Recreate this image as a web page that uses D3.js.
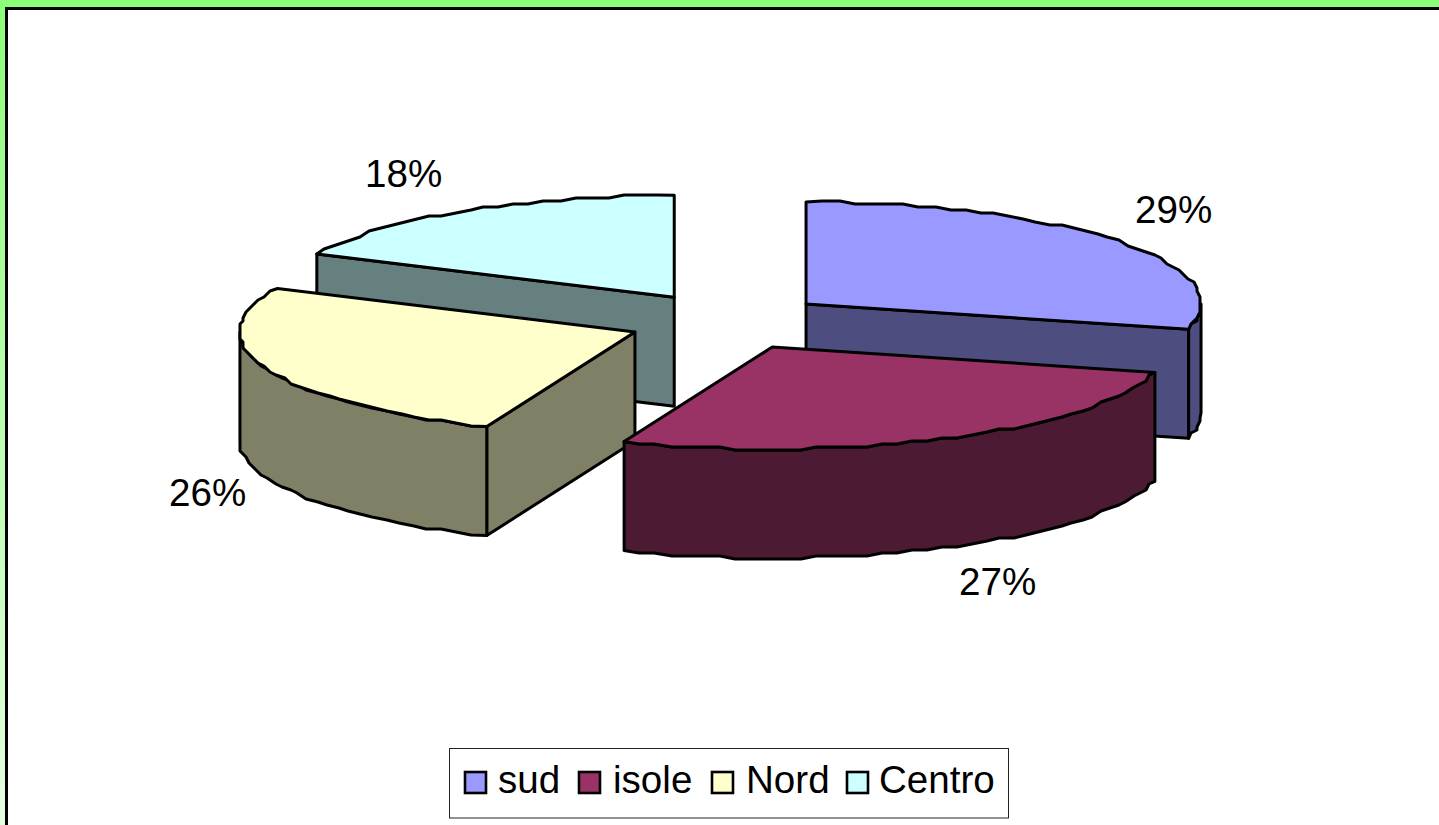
<!DOCTYPE html>
<html>
<head>
<meta charset="utf-8">
<title>Pie</title>
<script src="https://cdn.jsdelivr.net/npm/d3@7"></script>
<style>
html, body { margin: 0; padding: 0; background: #fff; overflow: hidden; }
svg { display: block; }
text { font-family: "Liberation Sans", Arial, sans-serif; fill: #000; }
</style>
</head>
<body>
<script>
var categories = ["sud", "isole", "Nord", "Centro"];
var values = [29, 27.12, 25.88, 18];
var labels = ["29%", "27%", "26%", "18%"];
var topColors = ["#9999ff", "#993366", "#ffffcc", "#ccffff"];
var sideColors = ["#4d4d80", "#4d1a33", "#808066", "#668080"];
var labelPos = [[1135, 223], [959, 595], [169, 506], [365, 187]];
var legendSwatchX = [465, 579, 712, 847];
var legendTextX = [498, 613, 746, 879];

var width = 1439, height = 825;
var cx = 727.5, cy = 321.5, rx = 395, ry = 102, depth = 109;
var explodeX = 99.4, explodeY = 28.6;

var svg = d3.select("body").append("svg")
    .attr("width", width)
    .attr("height", height);

// frame: green band fading down the left side
var grad = svg.append("defs").append("linearGradient")
    .attr("id", "band").attr("x1", 0).attr("y1", 0).attr("x2", 0).attr("y2", 1);
grad.append("stop").attr("offset", "0%").attr("stop-color", "#8cff78");
grad.append("stop").attr("offset", "100%").attr("stop-color", "#e4ffe0");

svg.append("rect").attr("width", 5).attr("height", height).attr("fill", "url(#band)");
svg.append("rect").attr("width", width).attr("height", 7).attr("fill", "#8cff78");
svg.append("rect").attr("x", 5).attr("y", 7).attr("width", 3).attr("height", height - 7).attr("fill", "#000");
svg.append("rect").attr("x", 5).attr("y", 7).attr("width", width - 5).attr("height", 3).attr("fill", "#000");

var pie = d3.pie().sort(null).value(function (d) { return d; });
var slices = pie(values);

var line = d3.line();

// rim point of a slice, snapped to a coarse grid so the edge stays rough like the original
function rim(c, a, snap) {
    var x = c[0] + rx * Math.sin(a), y = c[1] - ry * Math.cos(a);
    if (snap) {
        x = Math.round(x / 3) * 3;
        y = Math.round(y / 3) * 3;
    }
    return [x, y];
}

function arcPoints(c, a0, a1) {
    var n = Math.max(1, Math.round((a1 - a0) / (2.4 * Math.PI / 180)));
    var scale = d3.scaleLinear().domain([0, n]).range([a0, a1]);
    return d3.range(n + 1).map(function (i) {
        return rim(c, scale(i), i > 0 && i < n);
    });
}

function down(p) { return [p[0], p[1] + depth]; }

function drawPath(points, fill) {
    svg.append("path")
        .attr("d", line(points) + "Z")
        .attr("fill", fill)
        .attr("stroke", "#000")
        .attr("stroke-width", 3)
        .attr("stroke-linejoin", "round");
}

function drawSlice(s, i) {
    var mid = (s.startAngle + s.endAngle) / 2;
    var c = [cx + explodeX * Math.sin(mid), cy - explodeY * Math.cos(mid)];
    var side = sideColors[i];

    // flat cut faces that look toward the viewer
    [s.startAngle, s.endAngle].forEach(function (a) {
        var right = a === s.endAngle && a > 0 && a < Math.PI;
        var left = a === s.startAngle && a > Math.PI && a < 2 * Math.PI;
        if (right || left) {
            var p = rim(c, a, false);
            drawPath([c, p, down(p), down(c)], side);
        }
    });

    // curved outer wall, front half only
    var w0 = Math.max(s.startAngle, Math.PI / 2), w1 = Math.min(s.endAngle, 3 * Math.PI / 2);
    if (w1 > w0) {
        var rimPts = arcPoints(c, w0, w1);
        drawPath(rimPts.concat(rimPts.slice().reverse().map(down)), side);
    }

    drawPath([c].concat(arcPoints(c, s.startAngle, s.endAngle)), topColors[i]);
}

// back slices first so the front ones cover them
[3, 0, 2, 1].forEach(function (i) { drawSlice(slices[i], i); });

svg.selectAll("text.pct")
    .data(labels)
    .enter().append("text")
    .attr("class", "pct")
    .attr("x", function (d, i) { return labelPos[i][0]; })
    .attr("y", function (d, i) { return labelPos[i][1]; })
    .attr("font-size", 38.6)
    .text(function (d) { return d; });

// legend
svg.append("rect")
    .attr("x", 449.5).attr("y", 748.5).attr("width", 559).attr("height", 69.5)
    .attr("fill", "#fff").attr("stroke", "#222").attr("stroke-width", 1);

svg.selectAll("rect.swatch")
    .data(categories)
    .enter().append("rect")
    .attr("class", "swatch")
    .attr("x", function (d, i) { return legendSwatchX[i]; })
    .attr("y", 772)
    .attr("width", 21)
    .attr("height", 21)
    .attr("fill", function (d, i) { return topColors[i]; })
    .attr("stroke", "#000")
    .attr("stroke-width", 2.6);

svg.selectAll("text.legend")
    .data(categories)
    .enter().append("text")
    .attr("class", "legend")
    .attr("x", function (d, i) { return legendTextX[i]; })
    .attr("y", 793)
    .attr("font-size", 38.6)
    .text(function (d) { return d; });
</script>
</body>
</html>
